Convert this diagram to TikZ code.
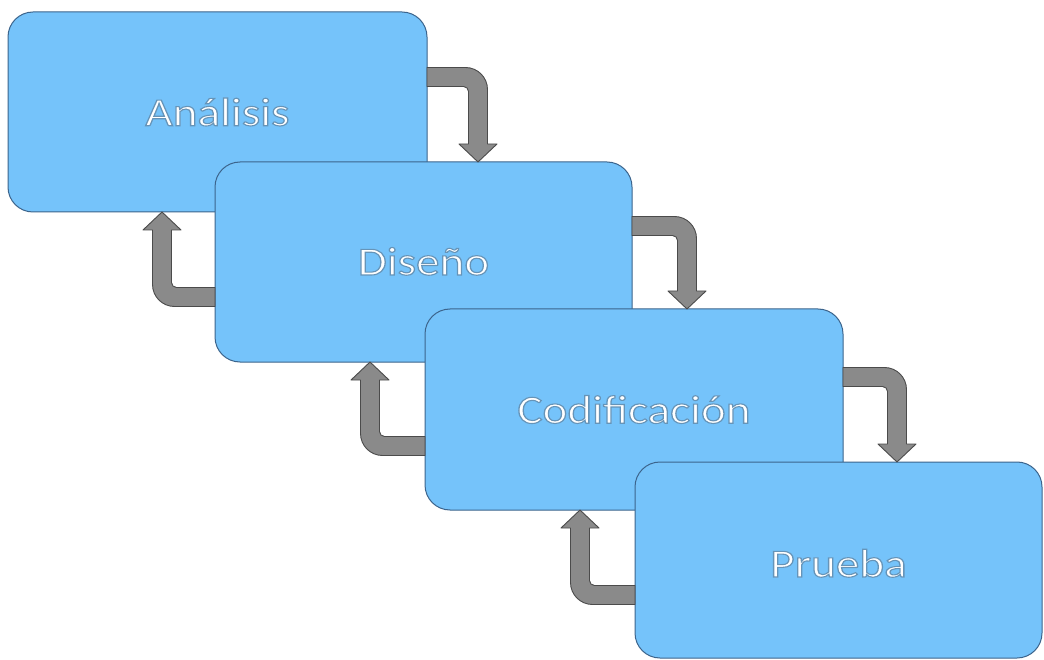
\documentclass[tikz,border=0pt]{standalone}
\usepackage{fontspec}
\setmainfont{Carlito}
\usetikzlibrary{calc}
\definecolor{boxfill}{RGB}{117,195,250}
\definecolor{boxline}{RGB}{60,100,140}
\definecolor{arrfill}{RGB}{138,138,138}
\definecolor{arrline}{RGB}{75,75,75}
\newcommand\glowtext[1]{\special{pdf:code 2 Tr 1.1 w 0.40 0.58 0.72 RG}\scalebox{1.18}[1]{#1}\special{pdf:code 0 Tr}}
\tikzset{
  box/.style={draw=boxline, fill=boxfill, rounded corners=25pt, line width=1pt,
    inner sep=0pt, outer sep=0pt, anchor=north west, text=white,
    font=\fontsize{40}{48}\selectfont},
  arr/.style={fill=arrfill, draw=arrline, line width=0.9pt, line join=round}
}
\newcommand\downarr[2]{%
  \path[arr] let \p1=(#1), \p2=(#2) in
    (\x1,{\y1+9.5pt}) -- ({\x2+9.5pt-22pt},{\y1+9.5pt})
    arc[start angle=90,end angle=0,radius=22pt]
    -- ({\x2+9.5pt},{\y2+18pt}) -- ({\x2+19pt},{\y2+18pt}) -- (\x2,\y2)
    -- ({\x2-19pt},{\y2+18pt}) -- ({\x2-9.5pt},{\y2+18pt})
    -- ({\x2-9.5pt},{\y1-9.5pt-5pt})
    arc[start angle=0,end angle=90,radius=5pt]
    -- (\x1,{\y1-9.5pt}) -- cycle;}
\newcommand\uparr[2]{%
  \path[arr] let \p1=(#1), \p2=(#2) in
    (\x1,{\y1-9.5pt}) -- ({\x2-9.5pt+22pt},{\y1-9.5pt})
    arc[start angle=270,end angle=180,radius=22pt]
    -- ({\x2-9.5pt},{\y2-18pt}) -- ({\x2-19pt},{\y2-18pt}) -- (\x2,\y2)
    -- ({\x2+19pt},{\y2-18pt}) -- ({\x2+9.5pt},{\y2-18pt})
    -- ({\x2+9.5pt},{\y1+9.5pt+5pt})
    arc[start angle=180,end angle=270,radius=5pt]
    -- (\x1,{\y1+9.5pt}) -- cycle;}
\begin{document}
\begin{tikzpicture}[x=1pt,y=1pt]
  \useasboundingbox[fill=white] (0,0) rectangle (1044,-660);
  \node[box, minimum width=419pt, minimum height=200pt] (ana) at (8,-12) {\glowtext{Análisis}};
  \node[box, minimum width=417pt, minimum height=200pt, text height=34pt, text depth=8pt] (dis) at (215,-162) {\glowtext{Diseño}};
  \node[box, minimum width=418pt, minimum height=201pt] (cod) at (425,-309) {\glowtext{Codificación}};
  \node[box, minimum width=407pt, minimum height=196pt, text height=42pt, text depth=8pt] (pru) at (635,-462) {\glowtext{Prueba}};
  % down connectors
  \coordinate (d1s) at ($(ana.north east)+(0,-65)$);
  \coordinate (d1e) at ($(dis.north west)+(263,0)$);
  \coordinate (d2s) at ($(dis.north east)+(0,-64)$);
  \coordinate (d2e) at ($(cod.north west)+(262,0)$);
  \coordinate (d3s) at ($(cod.north east)+(0,-68)$);
  \coordinate (d3e) at ($(pru.north west)+(262,0)$);
  \downarr{d1s}{d1e}
  \downarr{d2s}{d2e}
  \downarr{d3s}{d3e}
  % up connectors
  \coordinate (u1s) at ($(dis.north west)+(0,-135)$);
  \coordinate (u1e) at ($(ana.south west)+(154,0)$);
  \coordinate (u2s) at ($(cod.north west)+(0,-137)$);
  \coordinate (u2e) at ($(dis.south west)+(155,0)$);
  \coordinate (u3s) at ($(pru.north west)+(0,-133)$);
  \coordinate (u3e) at ($(cod.south west)+(155,0)$);
  \uparr{u1s}{u1e}
  \uparr{u2s}{u2e}
  \uparr{u3s}{u3e}
\end{tikzpicture}
\end{document}
